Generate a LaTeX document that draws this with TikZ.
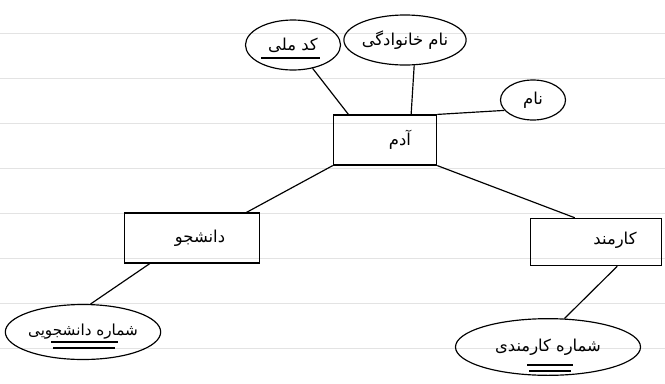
\documentclass[tikz,border=0pt]{standalone}
\usepackage{fontspec}
\usepackage{tikz}
\usetikzlibrary{shapes.geometric,calc}
\newfontfamily\farsi[Script=Arabic]{DejaVu Sans}
\TeXXeTstate=1
\newcommand{\fa}[1]{{\farsi\beginR #1\endR}}

\begin{document}
\begin{tikzpicture}[
  x=0.03cm,y=-0.03cm,
  font=\fontsize{14}{16}\selectfont,
  ent/.style={draw,line width=1pt,minimum height=1.5cm,inner sep=3pt},
  att/.style={draw,ellipse,line width=1pt,inner sep=0pt},
  ln/.style={line width=1pt},
  rule/.style={gray!22,line width=0.6pt}
]
\useasboundingbox (0,0) rectangle (665,383);
% ruled paper
\foreach \y in {33,78,123,168,213,258,303,348}
  \draw[rule] (0,\y) -- (665,\y);

% entities
\node[ent,minimum width=3.1cm] (adam)     at (385,140) {};
\node[ent,minimum width=4.05cm] (student)  at (192,238) {};
\node[ent,minimum width=3.95cm,minimum height=1.42cm] (employee) at (596,242) {};
\node (adamtxt)     at (400,140) {\fa{آدم}};
\node (studenttxt)  at (200,238) {\fa{دانشجو}};
\node (employeetxt) at (615,240) {\fa{کارمند}};

% attributes
\node[att,minimum width=2.85cm,minimum height=1.5cm] (codemelli) at (293,45) {\fa{کد ملی}};
\node[att,minimum width=3cm,minimum height=1.5cm]    (famname)   at (405,40) {\fa{نام خانوادگی}};
\node[att,minimum width=1.95cm,minimum height=1.2cm] (nam)       at (533,100) {\fa{نام}};
\node[att,minimum width=4.65cm,minimum height=1.65cm,font=\fontsize{13}{15}\selectfont] (stuno) at (83,332) {\fa{شماره دانشجویی}};
\node[att,minimum width=5.55cm,minimum height=1.7cm] (empno)     at (548,347) {\fa{شماره کارمندی}};

% keys
\draw[ln] ([shift={(-32,13)}]codemelli.center) -- ([shift={(27,13)}]codemelli.center);
\draw[ln] ([shift={(-32,10)}]stuno.center) -- ([shift={(35,10)}]stuno.center);
\draw[ln] ([shift={(-30,16)}]stuno.center) -- ([shift={(32,16)}]stuno.center);
\draw[ln] ([shift={(-21,18)}]empno.center) -- ([shift={(25,18)}]empno.center);
\draw[ln] ([shift={(-19,24)}]empno.center) -- ([shift={(23,24)}]empno.center);

% links
\draw[ln] (codemelli.-50) -- ($(adam.north west)!0.15!(adam.north east)$);
\draw[ln] (famname.-70) -- ($(adam.north west)!0.75!(adam.north east)$);
\draw[ln] (nam.200) -- (adam.north east);
\draw[ln] (adam.south west) -- ($(student.north west)!0.9!(student.north east)$);
\draw[ln] (adam.south east) -- ($(employee.north west)!0.34!(employee.north east)$);
\draw[ln] ($(student.south west)!0.19!(student.south east)$) -- (stuno.75);
\draw[ln] ($(employee.south west)!0.66!(employee.south east)$) -- (empno.60);
\end{tikzpicture}
\end{document}
